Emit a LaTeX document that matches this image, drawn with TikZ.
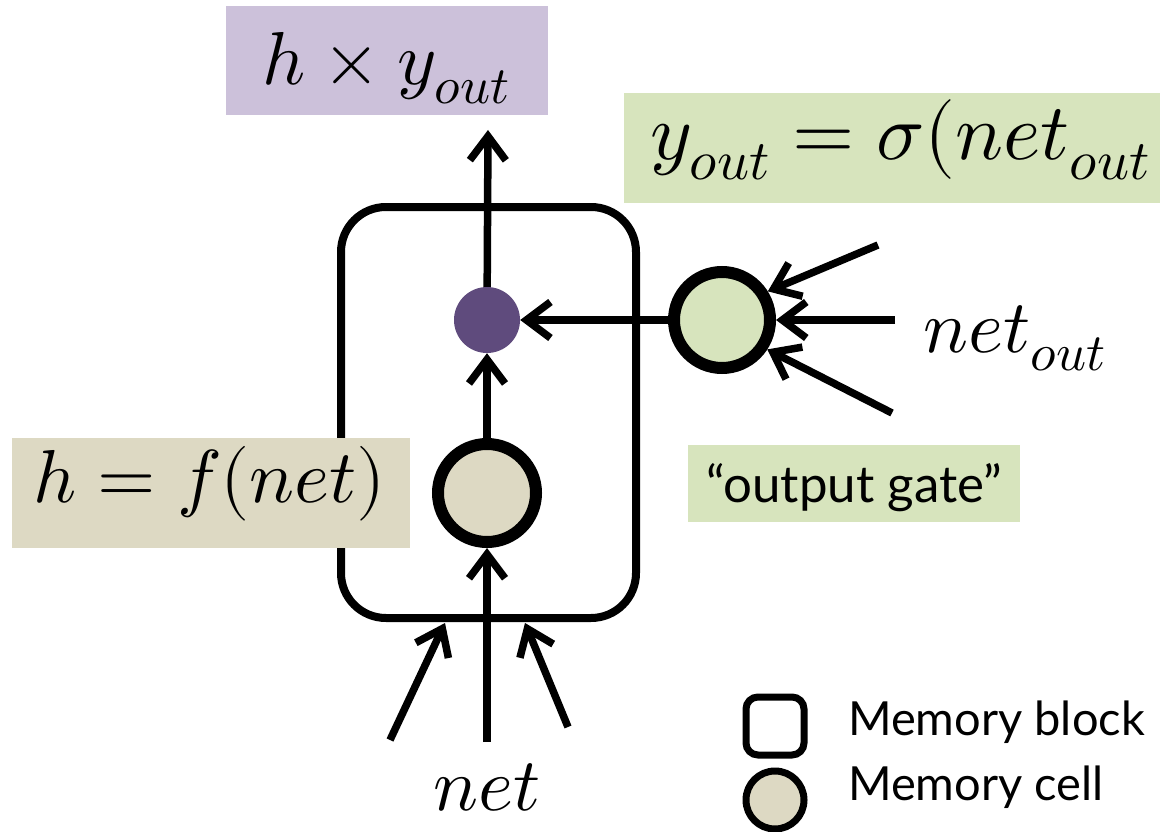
\documentclass[tikz,border=0pt]{standalone}
\usepackage{fontspec}
\usepackage{unicode-math}
\setsansfont{Lato}
\usetikzlibrary{arrows.meta, positioning}

\definecolor{gatefill}{HTML}{D7E4BD}
\definecolor{cellfill}{HTML}{DDD9C3}
\definecolor{prodfill}{HTML}{CCC1DA}
\definecolor{dotfill}{HTML}{5F4B7D}

\begin{document}
\begin{tikzpicture}[x=1pt,y=-1pt,
  wire/.style={line width=7.5pt,-{Straight Barb[length=24pt,width=36pt]}},
  mathtxt/.style={font=\fontsize{75}{80}\selectfont,inner sep=0pt},
  sanstxt/.style={font=\sffamily\fontsize{47}{52}\selectfont,inner sep=0pt},
  blockbox/.style={draw,rectangle,rounded corners=45pt,line width=8pt,inner sep=0pt},
  cellnode/.style={draw,circle,line width=12pt,fill=cellfill,minimum size=98pt,inner sep=0pt},
  gatenode/.style={draw,circle,line width=12pt,fill=gatefill,minimum size=96pt,inner sep=0pt},
  prodnode/.style={circle,fill=dotfill,minimum size=66pt,inner sep=0pt}]
\useasboundingbox (0,0) rectangle (1165,832);

\node[blockbox,minimum width=295pt,minimum height=411pt] (block) at (488.5,412.5) {};%le bloc

% les boites de texte
\fill[prodfill] (226,6) rectangle (548,115);
\fill[gatefill] (624,93) rectangle (1160,203);
\fill[cellfill] (12,438) rectangle (410,548);
\fill[gatefill] (688,445) rectangle (1020,522);

\node[mathtxt,anchor=base] (prod) at (386,85) {$h\times y_{out}$};
\node[mathtxt,font=\fontsize{80}{86}\selectfont,anchor=base west] (yout) at (650,160) {$y_{out}=\sigma(net_{out}$};
\node[mathtxt,anchor=base] (hfnet) at (210,502) {$h=f(net)$};
\node[sanstxt,font=\sffamily\fontsize{51}{56}\selectfont,anchor=base] (gatenote) at (854,502) {“output gate”};
\node[mathtxt,anchor=base] (netout) at (1015,352) {$net_{out}$};
\node[mathtxt,anchor=base] (net) at (487,810) {$net$};

\node[prodnode] (dot) at (487,320) {};
\node[cellnode] (cell) at (487,493) {};%la cellule
\node[gatenode] (gate) at (722,320) {};%la porte

\coordinate (outtip) at (488,130);
\coordinate (inL) at (390,740);
\coordinate (tipL) at (445,623);
\coordinate (inM) at (487,742);
\coordinate (inR) at (568,727);
\coordinate (tipR) at (525,623);
\coordinate (gin1) at (878,245);
\coordinate (gin2) at (895,320);
\coordinate (gin3) at (892,413);

\draw[wire] (dot) -- (outtip);
\draw[wire] (gate) -- (dot);
\draw[wire] (cell) -- (dot);
\draw[wire] (inM) -- (cell);
\draw[wire] (inL) -- (tipL);
\draw[wire] (inR) -- (tipR);
\draw[wire] (gin1) -- (gate.32);
\draw[wire] (gin2) -- (gate.east);
\draw[wire] (gin3) -- (gate.-33);

% la legende
\node[blockbox,rounded corners=12pt,line width=7pt,minimum size=58pt] (keyblock) at (775,726) {};
\node[cellnode,line width=7pt,minimum size=58pt] (keycell) at (775,800) {};
\node[sanstxt,anchor=base west] (keyblocktxt) at (848,735) {Memory block};
\node[sanstxt,anchor=base west] (keycelltxt) at (848,800) {Memory cell};
\end{tikzpicture}
\end{document}
